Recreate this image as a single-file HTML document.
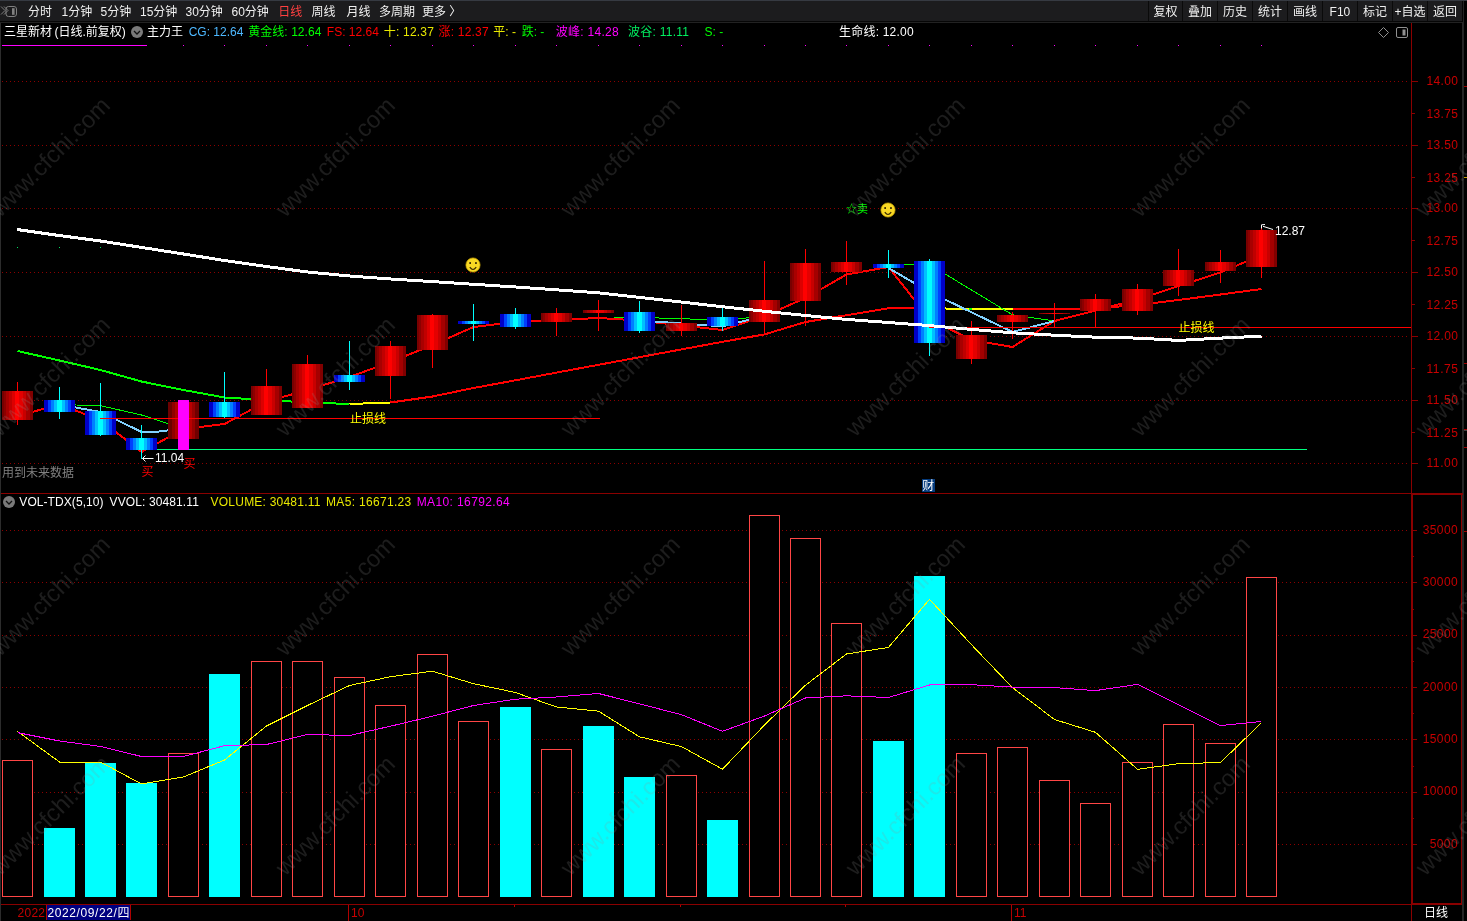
<!DOCTYPE html>
<html lang="zh-CN"><head><meta charset="utf-8"><title>三星新材 日线</title>
<style>
html,body{margin:0;padding:0;background:#000;overflow:hidden}
body{width:1467px;height:921px;position:relative;font-family:"Liberation Sans", "Noto Sans CJK SC", sans-serif;font-size:12px}
svg{position:absolute;left:0;top:0;display:block}
text{font-family:"Liberation Sans", "Noto Sans CJK SC", sans-serif;font-size:12px;white-space:pre}
.ce{shape-rendering:crispEdges}
</style></head><body>
<svg width="1467" height="921" viewBox="0 0 1467 921">
<defs>
<linearGradient id="gr" x1="0" x2="1" y1="0" y2="0"><stop offset="0.0000" stop-color="#780000"/><stop offset="0.0645" stop-color="#780000"/><stop offset="0.0645" stop-color="#8c0000"/><stop offset="0.1290" stop-color="#8c0000"/><stop offset="0.1290" stop-color="#a80000"/><stop offset="0.2258" stop-color="#a80000"/><stop offset="0.2258" stop-color="#c00000"/><stop offset="0.3226" stop-color="#c00000"/><stop offset="0.3226" stop-color="#dc0000"/><stop offset="0.4194" stop-color="#dc0000"/><stop offset="0.4194" stop-color="#ff0000"/><stop offset="0.5645" stop-color="#ff0000"/><stop offset="0.5645" stop-color="#e40000"/><stop offset="0.6774" stop-color="#e40000"/><stop offset="0.6774" stop-color="#c80000"/><stop offset="0.7742" stop-color="#c80000"/><stop offset="0.7742" stop-color="#a40000"/><stop offset="0.8871" stop-color="#a40000"/><stop offset="0.8871" stop-color="#800000"/><stop offset="1.0000" stop-color="#800000"/></linearGradient>
<linearGradient id="gd" x1="0" x2="1" y1="0" y2="0"><stop offset="0.0000" stop-color="#6c0000"/><stop offset="0.1290" stop-color="#6c0000"/><stop offset="0.1290" stop-color="#900000"/><stop offset="0.2258" stop-color="#900000"/><stop offset="0.2258" stop-color="#b00000"/><stop offset="0.3226" stop-color="#b00000"/><stop offset="0.3226" stop-color="#c00000"/><stop offset="0.6774" stop-color="#c00000"/><stop offset="0.6774" stop-color="#b80000"/><stop offset="0.7742" stop-color="#b80000"/><stop offset="0.7742" stop-color="#980000"/><stop offset="0.8710" stop-color="#980000"/><stop offset="0.8710" stop-color="#700000"/><stop offset="1.0000" stop-color="#700000"/></linearGradient>
<linearGradient id="gb" x1="0" x2="1" y1="0" y2="0"><stop offset="0.0000" stop-color="#0000c8"/><stop offset="0.1290" stop-color="#0000c8"/><stop offset="0.1290" stop-color="#0040ff"/><stop offset="0.2258" stop-color="#0040ff"/><stop offset="0.2258" stop-color="#0080ff"/><stop offset="0.3226" stop-color="#0080ff"/><stop offset="0.3226" stop-color="#00c0ff"/><stop offset="0.4194" stop-color="#00c0ff"/><stop offset="0.4194" stop-color="#00ffff"/><stop offset="0.5806" stop-color="#00ffff"/><stop offset="0.5806" stop-color="#00c0ff"/><stop offset="0.6774" stop-color="#00c0ff"/><stop offset="0.6774" stop-color="#0080ff"/><stop offset="0.7742" stop-color="#0080ff"/><stop offset="0.7742" stop-color="#0040ff"/><stop offset="0.8710" stop-color="#0040ff"/><stop offset="0.8710" stop-color="#0000c8"/><stop offset="1.0000" stop-color="#0000c8"/></linearGradient>
</defs>
<rect x="0" y="0" width="1467" height="921" fill="#000"/>
<g class="ce"><rect x="0" y="0" width="1462" height="21" fill="#1c1c1e"/>
<rect x="0" y="0" width="1467" height="1" fill="#363a42"/>
<rect x="0" y="21" width="1462" height="1" fill="#060606"/>
<rect x="0" y="22" width="1464" height="1" fill="#222222"/>
<rect x="0" y="23" width="1" height="898" fill="#2c2c2c"/>
<rect x="1462" y="1" width="1" height="21" fill="#050505"/>
<rect x="1463" y="1" width="1" height="920" fill="#242424"/>
<rect x="1462" y="22" width="1" height="899" fill="#262626"/></g>
<g class="ce"><rect x="1464" y="86" width="3" height="1" fill="#a00000"/><rect x="1464" y="177" width="3" height="1" fill="#c8a000"/><rect x="1464" y="363" width="3" height="1" fill="#a00000"/><rect x="1464" y="429" width="3" height="1" fill="#a00000"/><rect x="1464" y="430" width="3" height="1" fill="#404040"/><rect x="1464" y="447" width="3" height="1" fill="#a00000"/><rect x="1464" y="531" width="3" height="1" fill="#a00000"/></g>
<g class="ce" stroke="#8c0000" stroke-width="1" stroke-dasharray="1 3" fill="none">
<line x1="2" x2="1408" y1="81.5" y2="81.5"/>
<line x1="2" x2="1408" y1="145.5" y2="145.5"/>
<line x1="2" x2="1408" y1="208.5" y2="208.5"/>
<line x1="2" x2="1408" y1="272.5" y2="272.5"/>
<line x1="2" x2="1408" y1="336.5" y2="336.5"/>
<line x1="2" x2="1408" y1="400.5" y2="400.5"/>
<line x1="2" x2="1408" y1="463.5" y2="463.5"/>
<line x1="2" x2="1408" y1="530.5" y2="530.5"/>
<line x1="2" x2="1408" y1="582.5" y2="582.5"/>
<line x1="2" x2="1408" y1="635.5" y2="635.5"/>
<line x1="2" x2="1408" y1="687.5" y2="687.5"/>
<line x1="2" x2="1408" y1="739.5" y2="739.5"/>
<line x1="2" x2="1408" y1="792.5" y2="792.5"/>
<line x1="2" x2="1408" y1="844.5" y2="844.5"/>
</g>
<g class="ce" fill="#8a0000">
<rect x="1411" y="23" width="1" height="898"/>
<rect x="1" y="493" width="1461" height="1"/>
<rect x="1" y="904" width="1411" height="1"/>
<rect x="1411" y="493" width="2" height="412"/>
<rect x="1411" y="493" width="52" height="2"/>
<rect x="1461" y="493" width="1" height="412"/>
<rect x="1411" y="903" width="51" height="2"/>
</g>
<g class="ce" fill="#8a0000">
<rect x="1412" y="81" width="6" height="1"/>
<rect x="1412" y="145" width="6" height="1"/>
<rect x="1412" y="208" width="6" height="1"/>
<rect x="1412" y="272" width="6" height="1"/>
<rect x="1412" y="336" width="6" height="1"/>
<rect x="1412" y="400" width="6" height="1"/>
<rect x="1412" y="463" width="6" height="1"/>
<rect x="1412" y="113" width="3" height="1"/>
<rect x="1412" y="177" width="3" height="1"/>
<rect x="1412" y="240" width="3" height="1"/>
<rect x="1412" y="304" width="3" height="1"/>
<rect x="1412" y="368" width="3" height="1"/>
<rect x="1412" y="432" width="3" height="1"/>
<rect x="1413" y="530" width="4" height="1"/>
<rect x="1413" y="582" width="4" height="1"/>
<rect x="1413" y="635" width="4" height="1"/>
<rect x="1413" y="687" width="4" height="1"/>
<rect x="1413" y="739" width="4" height="1"/>
<rect x="1413" y="792" width="4" height="1"/>
<rect x="1413" y="844" width="4" height="1"/>
<rect x="1413" y="556" width="1" height="1"/>
<rect x="1413" y="609" width="1" height="1"/>
<rect x="1413" y="661" width="1" height="1"/>
<rect x="1413" y="713" width="1" height="1"/>
<rect x="1413" y="766" width="1" height="1"/>
<rect x="1413" y="818" width="1" height="1"/>
</g>
<g fill="#c80000" text-anchor="end">
<text x="1458" y="85.1" textLength="31.5">14.00</text>
<text x="1458" y="117.7" textLength="31.5">13.75</text>
<text x="1458" y="149.2" textLength="31.5">13.50</text>
<text x="1458" y="181.7" textLength="31.5">13.25</text>
<text x="1458" y="212.4" textLength="31.5">13.00</text>
<text x="1458" y="244.8" textLength="31.5">12.75</text>
<text x="1458" y="276.0" textLength="31.5">12.50</text>
<text x="1458" y="309.3" textLength="31.5">12.25</text>
<text x="1458" y="340.4" textLength="31.5">12.00</text>
<text x="1458" y="373.1" textLength="31.5">11.75</text>
<text x="1458" y="404.4" textLength="31.5">11.50</text>
<text x="1458" y="437.1" textLength="31.5">11.25</text>
<text x="1458" y="467.4" textLength="31.5">11.00</text>
<text x="1457.6" y="533.6" textLength="34.8">35000</text>
<text x="1457.6" y="585.9" textLength="34.8">30000</text>
<text x="1457.6" y="638.2" textLength="34.8">25000</text>
<text x="1457.6" y="690.6" textLength="34.8">20000</text>
<text x="1457.6" y="742.9" textLength="34.8">15000</text>
<text x="1457.6" y="795.2" textLength="34.8">10000</text>
<text x="1457.6" y="847.6" textLength="27.8">5000</text>
</g>
<g class="ce" fill="#ff00ff">
<rect x="2" y="45" width="145" height="1"/>
<rect x="183" y="45" width="1" height="1"/>
<rect x="224" y="45" width="1" height="1"/>
<rect x="266" y="45" width="1" height="1"/>
<rect x="307" y="45" width="1" height="1"/>
<rect x="349" y="45" width="1" height="1"/>
<rect x="390" y="45" width="1" height="1"/>
<rect x="432" y="45" width="1" height="1"/>
<rect x="473" y="45" width="1" height="1"/>
<rect x="515" y="45" width="1" height="1"/>
<rect x="556" y="45" width="1" height="1"/>
<rect x="598" y="45" width="1" height="1"/>
<rect x="639" y="45" width="1" height="1"/>
<rect x="681" y="45" width="1" height="1"/>
<rect x="722" y="45" width="1" height="1"/>
<rect x="764" y="45" width="1" height="1"/>
<rect x="805" y="45" width="1" height="1"/>
<rect x="846" y="45" width="1" height="1"/>
<rect x="888" y="45" width="1" height="1"/>
<rect x="929" y="45" width="1" height="1"/>
<rect x="971" y="45" width="1" height="1"/>
<rect x="1012" y="45" width="1" height="1"/>
<rect x="1054" y="45" width="1" height="1"/>
<rect x="1095" y="45" width="1" height="1"/>
<rect x="1137" y="45" width="1" height="1"/>
<rect x="1178" y="45" width="1" height="1"/>
<rect x="1220" y="45" width="1" height="1"/>
<rect x="1261" y="45" width="1" height="1"/>
</g>
<g class="ce" fill="#00e060">
<rect x="17" y="247" width="1" height="1"/>
<rect x="59" y="247" width="1" height="1"/>
<rect x="100" y="247" width="1" height="1"/>
</g>
<g fill="none" class="ce" stroke-linejoin="round">
<polyline points="17.5,351.0 59.5,360.5 100.5,370.0 141.5,381.5 183.5,390.0 224.5,397.5 266.5,400.0 307.5,402.5 349.5,404.0" stroke="#00ff00" stroke-width="2"/>
<polyline points="349.5,404.0 390.5,402.5" stroke="#ffff00" stroke-width="2"/>
<polyline points="390.5,402.5 432.5,396.5 473.5,388.0 515.5,380.3 556.5,372.6 598.5,364.8 639.5,357.2 681.5,349.4 722.5,341.8 764.5,334.4 805.5,322.0 846.5,315.2 888.5,308.2 929.5,308.2" stroke="#ff0000" stroke-width="2"/>
<polyline points="929.5,308.2 971.5,309.0 1012.5,309.0" stroke="#ffff00" stroke-width="2"/>
<polyline points="1012.5,309.0 1054.5,309.0 1095.5,308.5 1137.5,305.0 1178.5,300.0 1220.5,294.5 1261.5,289.0" stroke="#ff0000" stroke-width="2"/>
<rect x="969" y="308" width="3" height="2" fill="#00ff00" stroke="none"/>
<polyline points="59.0,404.5 100.5,405.7 141.5,415.0 183.5,428.5" stroke="#00ff00" stroke-width="1"/>
<polyline points="598.5,318.3 639.5,317.5 681.5,318.6 722.5,320.5 764.5,316.0" stroke="#00ff00" stroke-width="1"/>
<polyline points="888.5,264.5 929.5,264.5 971.5,290.0 1012.5,314.8 1054.5,321.0" stroke="#00ff00" stroke-width="1"/>
<polyline points="17.5,416.0 59.5,404.5 100.5,420.0 141.5,452.0 183.5,429.0 224.5,424.0 266.5,401.5 307.5,390.0 349.5,377.0 390.5,362.0 432.5,345.0 473.5,327.0 515.5,322.0 556.5,320.0 598.5,318.0 639.5,320.5 681.5,325.5 722.5,330.0 764.5,316.0 805.5,298.0 846.5,274.5 888.5,267.0 929.5,319.0 971.5,340.0 1012.5,347.0 1054.5,321.0 1095.5,310.5 1137.5,299.5 1178.5,286.0 1220.5,272.5 1261.5,255.0" stroke="#ff0000" stroke-width="2"/>
<polyline points="59.0,404.5 100.5,412.0 141.5,432.0 155.0,432.0 183.5,428.5" stroke="#80d0ff" stroke-width="2"/>
<polyline points="639.5,320.5 681.5,323.5 722.5,326.3 764.5,316.0" stroke="#80d0ff" stroke-width="2"/>
<polyline points="888.5,268.0 929.5,292.0 971.5,312.3 1012.5,332.0 1054.5,321.0" stroke="#80d0ff" stroke-width="2"/>
</g>
<g class="ce">
<rect x="17" y="382" width="1" height="43" fill="#ff0000"/>
<rect x="2" y="391" width="31" height="29" fill="url(#gr)"/>
<rect x="59" y="387" width="1" height="32" fill="#00ffff"/>
<rect x="44" y="400" width="31" height="12" fill="url(#gb)"/>
<rect x="100" y="383" width="1" height="53" fill="#00ffff"/>
<rect x="85" y="411" width="31" height="24" fill="url(#gb)"/>
<rect x="141" y="425" width="1" height="34" fill="#00ffff"/>
<rect x="126" y="438" width="31" height="12" fill="url(#gb)"/>
<rect x="168" y="402" width="31" height="37" fill="url(#gd)"/>
<rect x="224" y="372" width="1" height="46" fill="#00ffff"/>
<rect x="209" y="402" width="31" height="15" fill="url(#gb)"/>
<rect x="266" y="369" width="1" height="46" fill="#ff0000"/>
<rect x="251" y="386" width="31" height="29" fill="url(#gr)"/>
<rect x="307" y="355" width="1" height="53" fill="#ff0000"/>
<rect x="292" y="364" width="31" height="44" fill="url(#gr)"/>
<rect x="349" y="341" width="1" height="49" fill="#00ffff"/>
<rect x="334" y="375" width="31" height="7" fill="url(#gb)"/>
<rect x="390" y="341" width="1" height="58" fill="#ff0000"/>
<rect x="375" y="346" width="31" height="30" fill="url(#gr)"/>
<rect x="432" y="314" width="1" height="54" fill="#ff0000"/>
<rect x="417" y="315" width="31" height="35" fill="url(#gr)"/>
<rect x="473" y="304" width="1" height="37" fill="#00ffff"/>
<rect x="458" y="321" width="31" height="3" fill="url(#gb)"/>
<rect x="515" y="308" width="1" height="21" fill="#00ffff"/>
<rect x="500" y="314" width="31" height="13" fill="url(#gb)"/>
<rect x="556" y="308" width="1" height="28" fill="#ff0000"/>
<rect x="541" y="313" width="31" height="9" fill="url(#gr)"/>
<rect x="598" y="300" width="1" height="31" fill="#ff0000"/>
<rect x="583" y="310" width="31" height="3" fill="url(#gr)"/>
<rect x="639" y="301" width="1" height="32" fill="#00ffff"/>
<rect x="624" y="312" width="31" height="19" fill="url(#gb)"/>
<rect x="681" y="305" width="1" height="31" fill="#ff0000"/>
<rect x="666" y="323" width="31" height="8" fill="url(#gr)"/>
<rect x="722" y="308" width="1" height="23" fill="#00ffff"/>
<rect x="707" y="317" width="31" height="9" fill="url(#gb)"/>
<rect x="764" y="261" width="1" height="72" fill="#ff0000"/>
<rect x="749" y="300" width="31" height="22" fill="url(#gr)"/>
<rect x="805" y="249" width="1" height="77" fill="#ff0000"/>
<rect x="790" y="263" width="31" height="38" fill="url(#gr)"/>
<rect x="846" y="241" width="1" height="44" fill="#ff0000"/>
<rect x="831" y="262" width="31" height="10" fill="url(#gr)"/>
<rect x="888" y="250" width="1" height="28" fill="#00ffff"/>
<rect x="873" y="264" width="31" height="4" fill="url(#gb)"/>
<rect x="929" y="259" width="1" height="97" fill="#00ffff"/>
<rect x="914" y="261" width="31" height="82" fill="url(#gb)"/>
<rect x="971" y="321" width="1" height="43" fill="#ff0000"/>
<rect x="956" y="335" width="31" height="24" fill="url(#gr)"/>
<rect x="1012" y="312" width="1" height="27" fill="#ff0000"/>
<rect x="997" y="315" width="31" height="7" fill="url(#gr)"/>
<rect x="1054" y="303" width="1" height="24" fill="#ff0000"/>
<rect x="1039" y="313" width="31" height="1" fill="url(#gr)"/>
<rect x="1095" y="294" width="1" height="33" fill="#ff0000"/>
<rect x="1080" y="299" width="31" height="12" fill="url(#gr)"/>
<rect x="1137" y="284" width="1" height="31" fill="#ff0000"/>
<rect x="1122" y="289" width="31" height="22" fill="url(#gr)"/>
<rect x="1178" y="249" width="1" height="47" fill="#ff0000"/>
<rect x="1163" y="270" width="31" height="16" fill="url(#gr)"/>
<rect x="1220" y="250" width="1" height="33" fill="#ff0000"/>
<rect x="1205" y="262" width="31" height="9" fill="url(#gr)"/>
<rect x="1261" y="228" width="1" height="50" fill="#ff0000"/>
<rect x="1246" y="230" width="31" height="37" fill="url(#gr)"/>
<rect x="100" y="418" width="500" height="1" fill="#ff0000"/>
<rect x="929" y="327" width="482" height="1" fill="#ff0000"/>
<rect x="157" y="449" width="1150" height="1" fill="#00ff80"/>
<rect x="178" y="400" width="11" height="50" fill="#ff00ff"/>
</g>
<polyline class="ce" points="17.0,229.5 59.0,235.5 100.5,241.0 142.0,247.5 183.5,254.0 224.5,260.5 266.5,266.5 307.5,272.0 349.5,276.0 390.5,279.0 432.5,281.6 473.5,284.3 515.5,287.0 556.5,289.8 598.5,292.8 639.5,297.4 681.5,302.1 722.5,306.7 764.5,311.3 805.5,315.5 846.5,319.4 888.5,322.5 929.5,325.6 971.5,329.4 1012.5,332.8 1054.5,335.2 1095.5,337.2 1137.5,338.1 1178.5,340.4 1220.5,338.1 1261.5,336.2" stroke="#ffffff" stroke-width="3" fill="none" stroke-linejoin="round"/>
<g class="ce">
<rect x="2.5" y="760.5" width="30" height="136" fill="#000" stroke="#ff4646" stroke-width="1"/>
<rect x="44" y="828" width="31" height="69" fill="#00ffff"/>
<rect x="85" y="763" width="31" height="134" fill="#00ffff"/>
<rect x="126" y="783" width="31" height="114" fill="#00ffff"/>
<rect x="168.5" y="753.5" width="30" height="143" fill="#000" stroke="#ff4646" stroke-width="1"/>
<rect x="209" y="674" width="31" height="223" fill="#00ffff"/>
<rect x="251.5" y="661.5" width="30" height="235" fill="#000" stroke="#ff4646" stroke-width="1"/>
<rect x="292.5" y="661.5" width="30" height="235" fill="#000" stroke="#ff4646" stroke-width="1"/>
<rect x="334.5" y="677.5" width="30" height="219" fill="#000" stroke="#ff4646" stroke-width="1"/>
<rect x="375.5" y="705.5" width="30" height="191" fill="#000" stroke="#ff4646" stroke-width="1"/>
<rect x="417.5" y="654.5" width="30" height="242" fill="#000" stroke="#ff4646" stroke-width="1"/>
<rect x="458.5" y="721.5" width="30" height="175" fill="#000" stroke="#ff4646" stroke-width="1"/>
<rect x="500" y="707" width="31" height="190" fill="#00ffff"/>
<rect x="541.5" y="749.5" width="30" height="147" fill="#000" stroke="#ff4646" stroke-width="1"/>
<rect x="583" y="726" width="31" height="171" fill="#00ffff"/>
<rect x="624" y="777" width="31" height="120" fill="#00ffff"/>
<rect x="666.5" y="775.5" width="30" height="121" fill="#000" stroke="#ff4646" stroke-width="1"/>
<rect x="707" y="820" width="31" height="77" fill="#00ffff"/>
<rect x="749.5" y="515.5" width="30" height="381" fill="#000" stroke="#ff4646" stroke-width="1"/>
<rect x="790.5" y="538.5" width="30" height="358" fill="#000" stroke="#ff4646" stroke-width="1"/>
<rect x="831.5" y="623.5" width="30" height="273" fill="#000" stroke="#ff4646" stroke-width="1"/>
<rect x="873" y="741" width="31" height="156" fill="#00ffff"/>
<rect x="914" y="576" width="31" height="321" fill="#00ffff"/>
<rect x="956.5" y="753.5" width="30" height="143" fill="#000" stroke="#ff4646" stroke-width="1"/>
<rect x="997.5" y="747.5" width="30" height="149" fill="#000" stroke="#ff4646" stroke-width="1"/>
<rect x="1039.5" y="780.5" width="30" height="116" fill="#000" stroke="#ff4646" stroke-width="1"/>
<rect x="1080.5" y="803.5" width="30" height="93" fill="#000" stroke="#ff4646" stroke-width="1"/>
<rect x="1122.5" y="762.5" width="30" height="134" fill="#000" stroke="#ff4646" stroke-width="1"/>
<rect x="1163.5" y="724.5" width="30" height="172" fill="#000" stroke="#ff4646" stroke-width="1"/>
<rect x="1205.5" y="743.5" width="30" height="153" fill="#000" stroke="#ff4646" stroke-width="1"/>
<rect x="1246.5" y="577.5" width="30" height="319" fill="#000" stroke="#ff4646" stroke-width="1"/>
</g>
<g fill="none" class="ce">
<polyline points="17.5,731.4 59.5,762.0 100.5,762.0 141.5,784.0 183.5,777.0 224.5,760.0 266.5,726.0 307.5,705.5 349.5,685.5 390.5,676.7 432.5,671.2 473.5,683.7 515.5,692.5 556.5,707.0 598.5,711.2 639.5,736.8 681.5,746.6 722.5,769.2 764.5,725.0 805.5,685.2 846.5,654.0 888.5,647.4 929.5,599.3 971.5,644.7 1012.5,687.6 1054.5,719.5 1095.5,732.3 1137.5,769.3 1178.5,763.7 1220.5,762.5 1261.5,722.7" stroke="#ffff00" stroke-width="1"/>
<polyline points="17.5,732.6 59.5,741.0 100.5,746.4 141.5,756.5 183.5,756.5 224.5,745.7 266.5,744.5 307.5,734.5 349.5,735.5 390.5,726.2 432.5,716.2 473.5,705.5 515.5,699.2 556.5,697.0 598.5,693.5 639.5,703.8 681.5,714.7 722.5,731.3 764.5,716.0 805.5,698.0 846.5,695.8 888.5,697.5 929.5,685.0 971.5,684.7 1012.5,687.1 1054.5,687.6 1095.5,690.6 1137.5,684.4 1178.5,704.8 1220.5,725.6 1261.5,721.5" stroke="#ff00ff" stroke-width="1"/>
</g>
<g transform="translate(473,265)"><circle r="7.1" fill="#f8d824" stroke="#d0a800" stroke-width="0.7"/><rect x="-3.7" y="-2.9" width="1.7" height="1.9" fill="#3a2a00"/><rect x="2.1" y="-2.9" width="1.7" height="1.9" fill="#3a2a00"/><path d="M-3.2 2.2 Q0 6.8 3.2 2.2" fill="none" stroke="#3a2a00" stroke-width="1.2"/></g>
<g transform="translate(888,210)"><circle r="7.1" fill="#f8d824" stroke="#d0a800" stroke-width="0.7"/><rect x="-3.7" y="-2.9" width="1.7" height="1.9" fill="#3a2a00"/><rect x="2.1" y="-2.9" width="1.7" height="1.9" fill="#3a2a00"/><path d="M-3.2 2.2 Q0 6.8 3.2 2.2" fill="none" stroke="#3a2a00" stroke-width="1.2"/></g>
<text x="846" y="213" fill="#00ff00" style="font-size:11px">☆卖</text>
<text x="350" y="422.5" fill="#ffff00">止损线</text>
<text x="1178.5" y="331.8" fill="#ffff00">止损线</text>
<text x="141.5" y="476" fill="#ff0000">买</text>
<text x="183.5" y="468" fill="#ff0000">买</text>
<path d="M153.5 458.5 H142.5 M145.5 455.5 L142.5 458.5 L145.5 461.5" fill="none" stroke="#ffffff" stroke-width="1"/>
<text x="155" y="462" fill="#ffffff">11.04</text>
<path d="M1273 229.5 L1263 226.3 M1261.5 228.5 L1261.5 224.8 L1265 224.5" fill="none" stroke="#ffffff" stroke-width="1"/>
<text x="1275" y="235" fill="#ffffff">12.87</text>
<text x="2" y="477" fill="#808080">用到未来数据</text>
<rect class="ce" x="922" y="479" width="13" height="13" fill="#043a7c"/>
<text x="922.3" y="489.8" fill="#ffffff" style="font-size:12px">财</text>
<g fill="#909090" fill-opacity="0.2" style="font-size:24px" text-anchor="middle">
<text transform="translate(50.3,157) rotate(-45)" x="0" y="8" style="font-size:23.8px">www.cfchi.com</text>
<text transform="translate(335.3,157) rotate(-45)" x="0" y="8" style="font-size:23.8px">www.cfchi.com</text>
<text transform="translate(620.3,157) rotate(-45)" x="0" y="8" style="font-size:23.8px">www.cfchi.com</text>
<text transform="translate(905.3,157) rotate(-45)" x="0" y="8" style="font-size:23.8px">www.cfchi.com</text>
<text transform="translate(1190.3,157) rotate(-45)" x="0" y="8" style="font-size:23.8px">www.cfchi.com</text>
<text transform="translate(1475.3,157) rotate(-45)" x="0" y="8" style="font-size:23.8px">www.cfchi.com</text>
<text transform="translate(50.3,376.5) rotate(-45)" x="0" y="8" style="font-size:23.8px">www.cfchi.com</text>
<text transform="translate(335.3,376.5) rotate(-45)" x="0" y="8" style="font-size:23.8px">www.cfchi.com</text>
<text transform="translate(620.3,376.5) rotate(-45)" x="0" y="8" style="font-size:23.8px">www.cfchi.com</text>
<text transform="translate(905.3,376.5) rotate(-45)" x="0" y="8" style="font-size:23.8px">www.cfchi.com</text>
<text transform="translate(1190.3,376.5) rotate(-45)" x="0" y="8" style="font-size:23.8px">www.cfchi.com</text>
<text transform="translate(1475.3,376.5) rotate(-45)" x="0" y="8" style="font-size:23.8px">www.cfchi.com</text>
<text transform="translate(50.3,596) rotate(-45)" x="0" y="8" style="font-size:23.8px">www.cfchi.com</text>
<text transform="translate(335.3,596) rotate(-45)" x="0" y="8" style="font-size:23.8px">www.cfchi.com</text>
<text transform="translate(620.3,596) rotate(-45)" x="0" y="8" style="font-size:23.8px">www.cfchi.com</text>
<text transform="translate(905.3,596) rotate(-45)" x="0" y="8" style="font-size:23.8px">www.cfchi.com</text>
<text transform="translate(1190.3,596) rotate(-45)" x="0" y="8" style="font-size:23.8px">www.cfchi.com</text>
<text transform="translate(1475.3,596) rotate(-45)" x="0" y="8" style="font-size:23.8px">www.cfchi.com</text>
<text transform="translate(50.3,815.5) rotate(-45)" x="0" y="8" style="font-size:23.8px">www.cfchi.com</text>
<text transform="translate(335.3,815.5) rotate(-45)" x="0" y="8" style="font-size:23.8px">www.cfchi.com</text>
<text transform="translate(620.3,815.5) rotate(-45)" x="0" y="8" style="font-size:23.8px">www.cfchi.com</text>
<text transform="translate(905.3,815.5) rotate(-45)" x="0" y="8" style="font-size:23.8px">www.cfchi.com</text>
<text transform="translate(1190.3,815.5) rotate(-45)" x="0" y="8" style="font-size:23.8px">www.cfchi.com</text>
<text transform="translate(1475.3,815.5) rotate(-45)" x="0" y="8" style="font-size:23.8px">www.cfchi.com</text>
</g>
<text x="28" y="16" fill="#f0f0f0">分时</text>
<text x="61.5" y="16" fill="#f0f0f0">1分钟</text>
<text x="100.5" y="16" fill="#f0f0f0">5分钟</text>
<text x="140" y="16" fill="#f0f0f0">15分钟</text>
<text x="185.5" y="16" fill="#f0f0f0">30分钟</text>
<text x="231.5" y="16" fill="#f0f0f0">60分钟</text>
<text x="278.3" y="16" fill="#ff4040">日线</text>
<text x="311.5" y="16" fill="#f0f0f0">周线</text>
<text x="346.5" y="16" fill="#f0f0f0">月线</text>
<text x="379" y="16" fill="#f0f0f0">多周期</text>
<text x="422" y="16" fill="#f0f0f0">更多 〉</text>
<g fill="none" stroke="#808080" stroke-width="1"><path d="M1 6.5 L5 10.5 L1 14.5 M4 6.5 L8 10.5 L4 14.5"/><rect x="6" y="6.5" width="10.5" height="10" rx="2.5"/><rect x="12" y="8.2" width="2.6" height="6.6" fill="#808080" stroke="none"/></g>
<g class="ce" fill="#0a0a0a">
<rect x="1148" y="1" width="1" height="20"/>
<rect x="1182" y="1" width="1" height="20"/>
<rect x="1217" y="1" width="1" height="20"/>
<rect x="1252" y="1" width="1" height="20"/>
<rect x="1287" y="1" width="1" height="20"/>
<rect x="1322" y="1" width="1" height="20"/>
<rect x="1357" y="1" width="1" height="20"/>
<rect x="1392" y="1" width="1" height="20"/>
<rect x="1427" y="1" width="1" height="20"/>
</g>
<g fill="#f0f0f0" text-anchor="middle">
<text x="1165.4" y="16">复权</text>
<text x="1199.9" y="16">叠加</text>
<text x="1234.9" y="16">历史</text>
<text x="1269.9" y="16">统计</text>
<text x="1304.9" y="16">画线</text>
<text x="1339.9" y="16">F10</text>
<text x="1374.9" y="16">标记</text>
<text x="1409.9" y="16">+自选</text>
<text x="1444.9" y="16">返回</text>
</g>
<text x="4" y="36" fill="#ffffff">三星新材</text>
<text x="54.5" y="36" fill="#ffffff">(日线.前复权)</text>
<text x="147" y="36" fill="#ffffff">主力王</text>
<text x="188.7" y="36" fill="#4db8ff">CG: 12.64</text>
<text x="248.2" y="36" fill="#00ff00" textLength="73.2">黄金线: 12.64</text>
<text x="326.8" y="36" fill="#ff0000">FS: 12.64</text>
<text x="383.8" y="36" fill="#e8e800" textLength="50.1">十: 12.37</text>
<text x="438.5" y="36" fill="#ff0000" textLength="50.2">涨: 12.37</text>
<text x="493.3" y="36" fill="#e8e800">平: -</text>
<text x="521.7" y="36" fill="#00ff00">跌: -</text>
<text x="555.8" y="36" fill="#ff00ff" textLength="62.8">波峰: 14.28</text>
<text x="628" y="36" fill="#00f060" textLength="61">波谷: 11.11</text>
<text x="704.6" y="36" fill="#00ff00">S: -</text>
<text x="839" y="36" fill="#ffffff" textLength="74.6">生命线: 12.00</text>
<g transform="translate(137,32)"><circle r="6" fill="#7a7a7a"/><path d="M-3 -1 L0 2 L3 -1" fill="none" stroke="#111" stroke-width="1.3"/></g>
<g transform="translate(9,502)"><circle r="6" fill="#7a7a7a"/><path d="M-3 -1 L0 2 L3 -1" fill="none" stroke="#111" stroke-width="1.3"/></g>
<g fill="none" stroke="#909090" stroke-width="1"><path d="M1383.5 27.5 L1388.5 32.5 L1383.5 37.5 L1378.5 32.5 Z"/><rect x="1396.5" y="27.5" width="11" height="10" rx="1.5"/><rect x="1402.5" y="29.5" width="3" height="6" fill="#909090" stroke="none"/></g>
<text x="19.3" y="506.3" fill="#ffffff" textLength="84.3">VOL-TDX(5,10)</text>
<text x="109.6" y="506.3" fill="#ffffff" textLength="89.3">VVOL: 30481.11</text>
<text x="210.6" y="506.3" fill="#e8e800" textLength="109.8">VOLUME: 30481.11</text>
<text x="326" y="506.3" fill="#e8e800" textLength="85.3">MA5: 16671.23</text>
<text x="416.7" y="506.3" fill="#ff00ff" textLength="93.1">MA10: 16792.64</text>
<g class="ce" fill="#b00000"><rect x="348" y="905" width="1" height="16"/><rect x="1011" y="905" width="1" height="16"/><rect x="514" y="905" width="1" height="2"/><rect x="680" y="905" width="1" height="2"/><rect x="845" y="905" width="1" height="2"/></g>
<text x="17.5" y="916.5" fill="#c80000" textLength="27.5">2022</text>
<rect class="ce" x="46" y="905" width="85" height="15" fill="#000080"/>
<rect class="ce" x="46" y="905" width="1" height="15" fill="#b00000"/><rect class="ce" x="130" y="905" width="1" height="15" fill="#b00000"/>
<text x="47.5" y="916.5" fill="#ffffff" textLength="82">2022/09/22/四</text>
<text x="351" y="916.5" fill="#c80000">10</text>
<text x="1014" y="916.5" fill="#c80000">11</text>
<text x="1424" y="916.7" fill="#ffffff">日线</text>
</svg>
</body></html>
